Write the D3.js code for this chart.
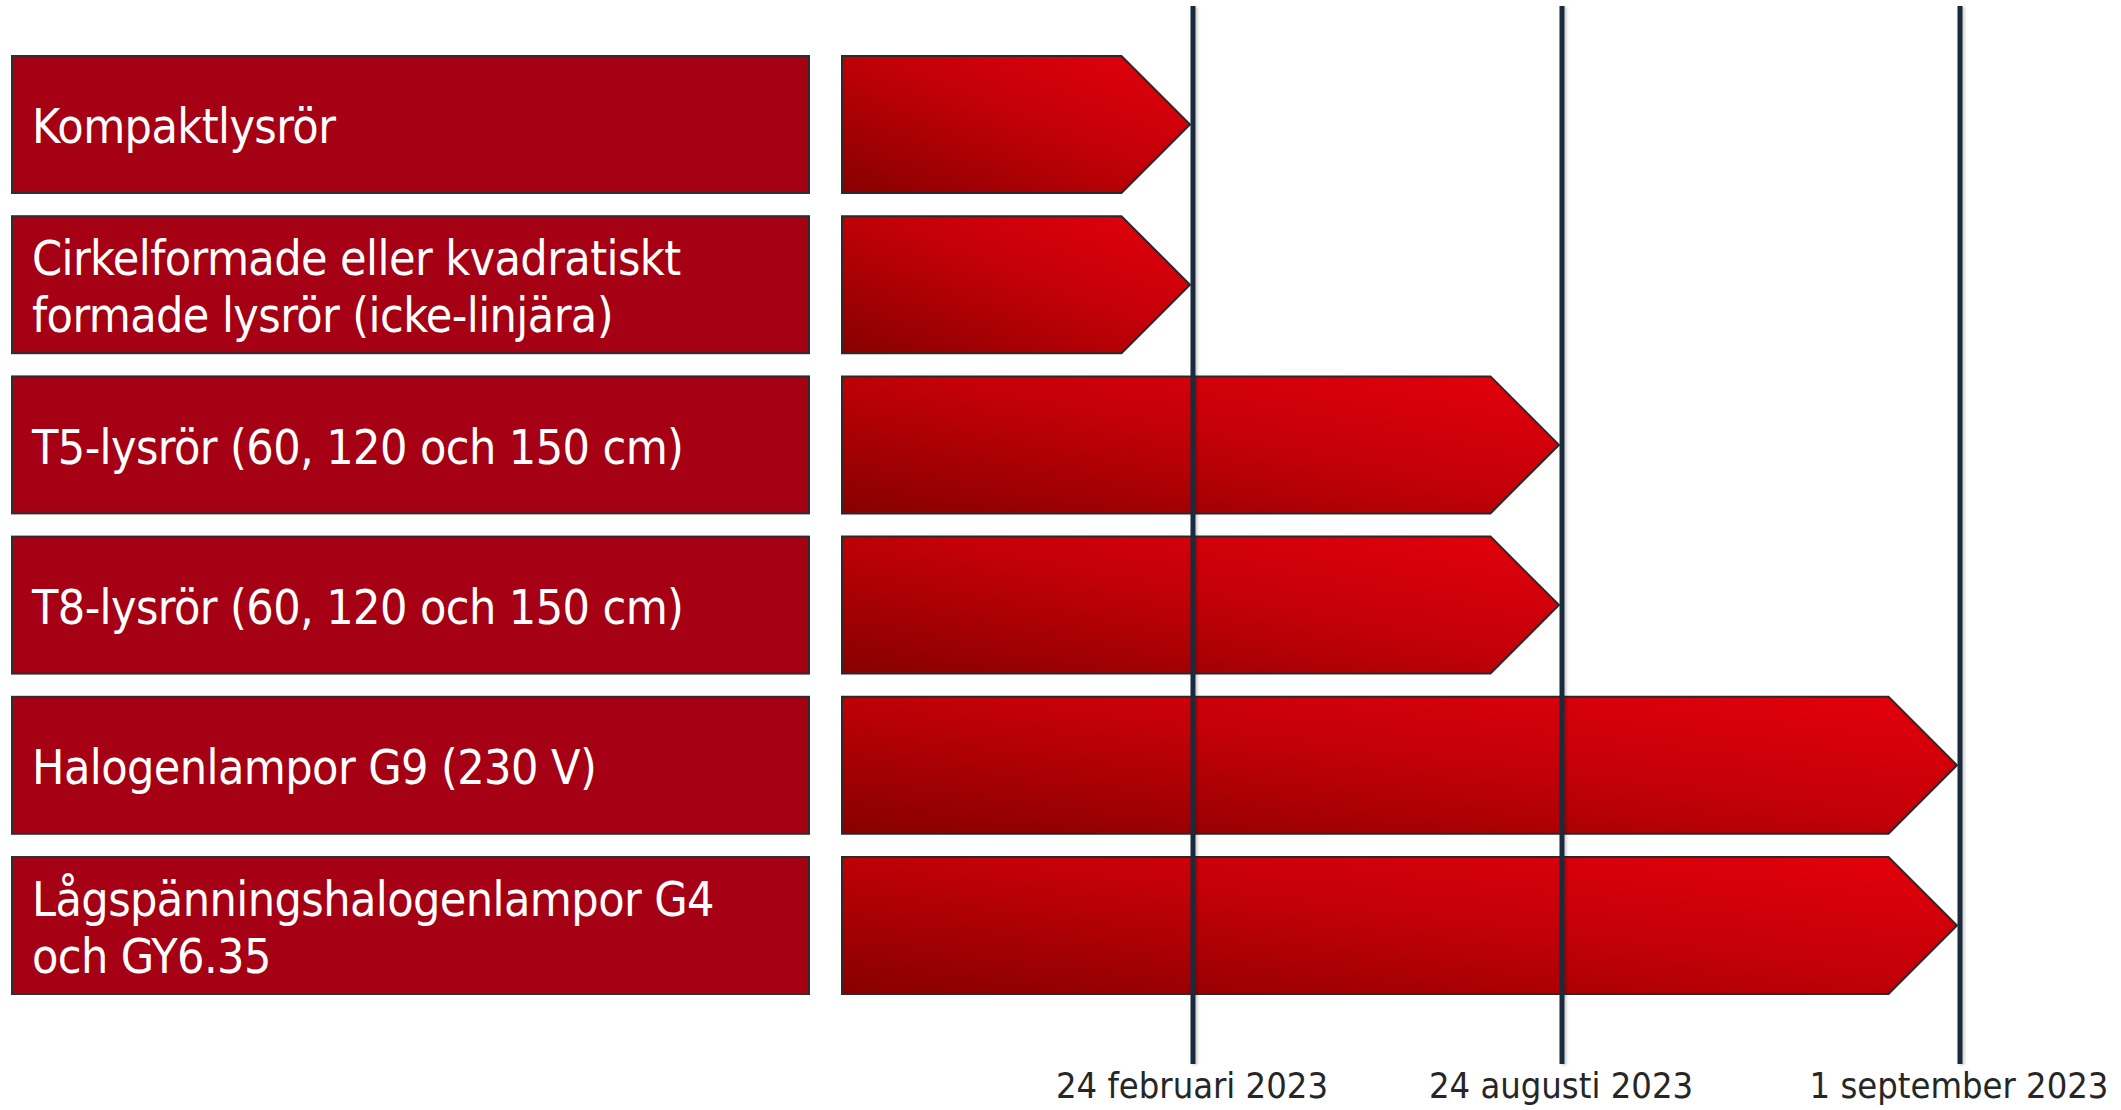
<!DOCTYPE html>
<html>
<head>
<meta charset="utf-8">
<script src="https://cdn.jsdelivr.net/npm/d3@7"></script>
<style>
  body { margin: 0; background: #fff; }
  svg { display: block; }
</style>
</head>
<body>
<div id="chart-area"></div>
<script>
// Data
var categories = [
  "Kompaktlysrör",
  "Cirkelformade eller kvadratiskt\nformade lysrör (icke-linjära)",
  "T5-lysrör (60, 120 och 150 cm)",
  "T8-lysrör (60, 120 och 150 cm)",
  "Halogenlampor G9 (230 V)",
  "Lågspänningshalogenlampor G4\noch GY6.35"
]
// index of the milestone each phase-out arrow runs up to
var endMilestone = [1, 1, 2, 2, 3, 3]
var milestones = ["start", "24 februari 2023", "24 augusti 2023", "1 september 2023"]

var width = 2121, height = 1110
var font = "'DejaVu Sans Condensed', 'DejaVu Sans', sans-serif"

var svg = d3.select('#chart-area').append('svg')
  .attr('width', width)
  .attr('height', height)

// gradient for the arrows
var defs = svg.append('defs')
var grad = defs.append('linearGradient')
  .attr('id', 'arrowGrad')
  .attr('x1', 0).attr('y1', 1)
  .attr('x2', 1).attr('y2', 0)
grad.append('stop').attr('offset', '0%').attr('stop-color', '#880000')
grad.append('stop').attr('offset', '55%').attr('stop-color', '#c40008')
grad.append('stop').attr('offset', '100%').attr('stop-color', '#e4000c')

// shadow in user space so it works on zero-width lines
var shadow = defs.append('filter').attr('id', 'shadow')
  .attr('filterUnits', 'userSpaceOnUse')
  .attr('x', 0).attr('y', 0).attr('width', width).attr('height', height)
shadow.append('feDropShadow')
  .attr('dx', 2).attr('dy', 1).attr('stdDeviation', 1.5)
  .attr('flood-color', '#000').attr('flood-opacity', 0.2)

// scales
var yScale = d3.scaleBand()
  .domain(d3.range(categories.length))
  .range([56, 994])
  .paddingInner(0.145)
  .paddingOuter(0)

// polylinear: milestones are not evenly spaced in the picture
var xScale = d3.scaleLinear()
  .domain(d3.range(milestones.length))
  .range([842, 1192, 1561, 1959])

var labelLeft = 12, labelRight = 809

// category boxes
var rows = svg.append('g')
rows.selectAll('rect')
  .data(categories)
  .enter()
  .append('rect')
  .attr('x', labelLeft)
  .attr('y', function(d, i){ return yScale(i) })
  .attr('width', labelRight - labelLeft)
  .attr('height', yScale.bandwidth())
  .attr('fill', '#a50014')
  .attr('stroke', '#2e2e2e')
  .attr('stroke-width', 2)

var lineGap = 57
rows.selectAll('text')
  .data(categories)
  .enter()
  .append('text')
  .attr('x', 32)
  .attr('font-family', font)
  .attr('font-size', '48px')
  .attr('letter-spacing', '-0.6px')
  .attr('fill', '#fff')
  .each(function(d, i){
    var parts = d.split('\n')
    var mid = yScale(i) + yScale.bandwidth() / 2
    var first = mid + 19 - (parts.length - 1) * lineGap / 2
    d3.select(this).selectAll('tspan')
      .data(parts)
      .enter()
      .append('tspan')
      .attr('x', 32)
      .attr('y', function(p, j){ return first + j * lineGap })
      .text(function(p){ return p })
  })

// arrows
var arrowPath = function(i){
  var y0 = yScale(i), h = yScale.bandwidth()
  var x0 = xScale(0), tip = xScale(endMilestone[i]) - 2
  var p = d3.path()
  p.moveTo(x0, y0)
  p.lineTo(tip - h / 2, y0)
  p.lineTo(tip, y0 + h / 2)
  p.lineTo(tip - h / 2, y0 + h)
  p.lineTo(x0, y0 + h)
  p.closePath()
  return p.toString()
}

svg.append('g').selectAll('path')
  .data(categories)
  .enter()
  .append('path')
  .attr('d', function(d, i){ return arrowPath(i) })
  .attr('fill', 'url(#arrowGrad)')
  .attr('stroke', '#2a2a2a')
  .attr('stroke-width', 2)
  .attr('stroke-linejoin', 'miter')

// milestone lines, drawn over the arrows
svg.append('g').selectAll('line')
  .data(milestones.slice(1))
  .enter()
  .append('line')
  .attr('x1', function(d, i){ return xScale(i + 1) + 1 })
  .attr('x2', function(d, i){ return xScale(i + 1) + 1 })
  .attr('y1', 6)
  .attr('y2', 1064)
  .attr('stroke', '#1c2b3c')
  .attr('stroke-width', 5)
  .attr('filter', 'url(#shadow)')

// milestone date labels
svg.append('g').selectAll('text')
  .data(milestones.slice(1))
  .enter()
  .append('text')
  .attr('x', function(d, i){ return xScale(i + 1) })
  .attr('y', 1098)
  .attr('text-anchor', 'middle')
  .attr('font-family', font)
  .attr('font-size', '36px')
  .attr('fill', '#262626')
  .text(function(d){ return d })
</script>
</body>
</html>
